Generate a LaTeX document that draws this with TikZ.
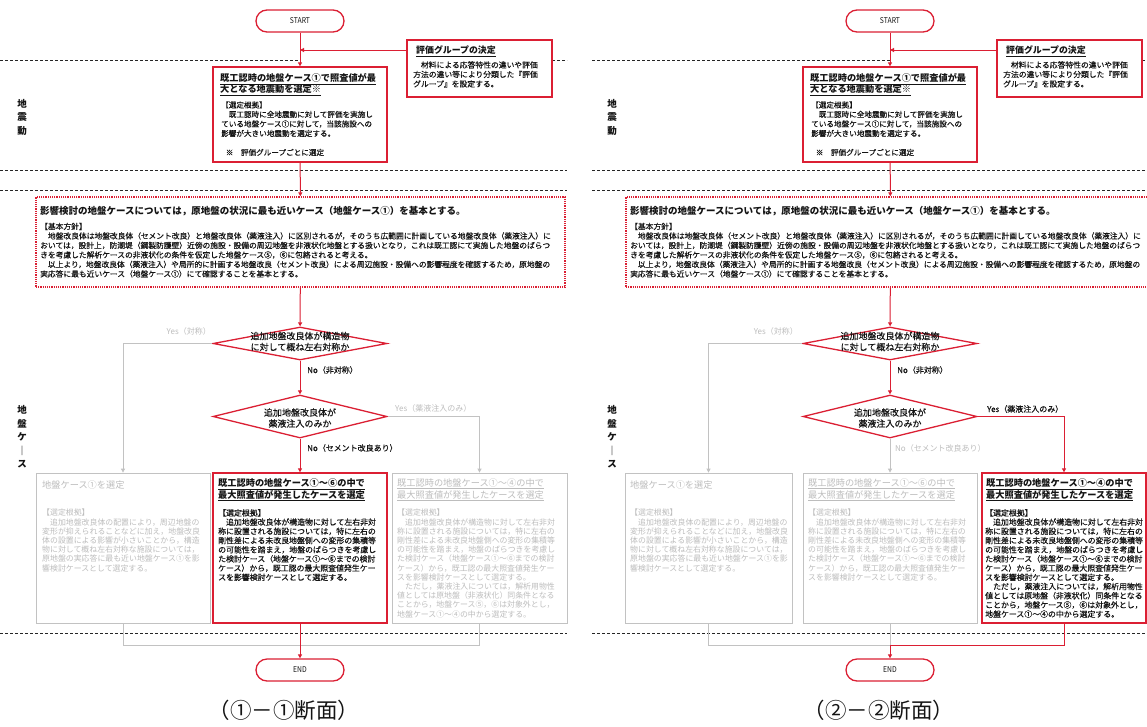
\documentclass[tikz,border=0pt]{standalone}
\usepackage{fontspec}
\setmainfont{Noto Sans CJK JP}
\newfontfamily\jpmed{Noto Sans CJK JP}[FakeBold=0.35]
\usepackage{graphicx}
\usetikzlibrary{shapes.geometric,arrows.meta}
\definecolor{fred}{rgb}{0.86,0.12,0.2}
\definecolor{fgray}{gray}{0.76}
\definecolor{fgtext}{gray}{0.74}
\definecolor{ftext}{gray}{0.08}
\newcommand\fsz[2]{\fontsize{#1}{#2}\selectfont}

\newcommand\HeadA{\underline{既工認時の地盤ケース①～⑥の中で}\\\underline{最大照査値が発生したケースを選定}}
\newcommand\HeadB{\underline{既工認時の地盤ケース①～④の中で}\\\underline{最大照査値が発生したケースを選定}}
\newcommand\BodyA{【選定根拠】\\　追加地盤改良体が構造物に対して左右非対\\称に設置される施設については，特に左右の\\剛性差による未改良地盤側への変形の集積等\\の可能性を踏まえ，地盤のばらつきを考慮し\\た検討ケース（地盤ケース①～⑥までの検討\\ケース）から，既工認の最大照査値発生ケー\\スを影響検討ケースとして選定する。}
\newcommand\BodyB{\BodyA\\　ただし，薬液注入については，解析用物性\\値としては原地盤（非液状化）同条件となる\\ことから，地盤ケース⑤，⑥は対象外とし，\\地盤ケース①～④の中から選定する。}
\newcommand\BodyC{【選定根拠】\\　追加地盤改良体の配置により，周辺地盤の\\変形が抑えられることなどに加え，地盤改良\\体の設置による影響が小さいことから，構造\\物に対して概ね左右対称な施設については，\\原地盤の実応答に最も近い地盤ケース①を影\\響検討ケースとして選定する。}

\tikzset{
 redbox/.style={draw=fred, line width=1.3pt, fill=white, inner sep=0pt},
 graybox/.style={draw=fgray, line width=0.8pt, fill=white, inner sep=0pt},
 termbox/.style={draw=fred, line width=1.3pt, rounded corners=11pt, minimum width=88pt, minimum height=22pt, inner sep=0pt, font=\fsz{8}{9}, text=ftext, fill=white},
 decision/.style={diamond, draw=fred, line width=1.3pt, inner sep=0pt, fill=white},
 bigbox/.style={draw=fred, line width=1.4pt, dash pattern=on 1.2pt off 1pt, fill=white, inner sep=0pt},
 sepline/.style={draw=black!85, line width=0.8pt, dash pattern=on 3pt off 2pt},
 redarrow/.style={draw=fred, line width=1pt, -{Triangle[length=4pt,width=4pt]}},
 grayarrow/.style={draw=fgray, line width=0.8pt, -{Triangle[length=4pt,width=4pt]}},
 redline/.style={draw=fred, line width=1pt},
 grayline/.style={draw=fgray, line width=0.8pt},
 txt/.style={anchor=north west, inner sep=0pt, align=left, text=ftext},
 gtxt/.style={txt, text=fgtext},
 lbl/.style={inner sep=0pt, font=\jpmed\fsz{8}{9}, text=ftext},
 glbl/.style={inner sep=0pt, font=\fsz{8}{9}, text=fgtext},
 sidelbl/.style={inner sep=0pt, align=center, font=\fsz{9.5}{13.5}\bfseries, text=ftext},
 headf/.style={font=\fsz{9.2}{11.7}\bfseries},
 bodyf/.style={font=\jpmed\fsz{7.9}{9.2}},
 gbodyf/.style={font=\fsz{7.9}{9.2}},
}

\newcommand\toppart[1]{%
 \node[sidelbl] (#1lab1) at (22,117) {地\\震\\動};
 \node[sidelbl] (#1lab2) at (22,437) {地\\盤\\ケ\\｜\\ス};
 \node[termbox] (#1start) at (300,21) {\scalebox{0.85}[1]{START}};
 \node[redbox, minimum width=145pt, minimum height=57pt] (#1grp) at (479.5,68.5) {};
 \node[txt, font=\fsz{8.9}{10}\bfseries] (#1grpt) at (416,45.5) {\underline{評価グループの決定}};
 \node[txt, font=\jpmed\fsz{7.8}{9.5}] (#1grpb) at (413,61) {　材料による応答特性の違いや評価\\方法の違い等により分類した『評価\\グループ』を設定する。};
 \node[redbox, minimum width=174pt, minimum height=95pt] (#1b1) at (300,114.5) {};
 \node[txt, font=\fsz{9.2}{11}\bfseries] (#1b1h) at (220,73.5) {\underline{既工認時の地盤ケース①で照査値が最}\\\underline{大となる地震動を選定※}};
 \node[txt, font=\jpmed\fsz{7.6}{9.5}] (#1b1b) at (221,101.2) {【選定根拠】\\　既工認時に全地震動に対して評価を実施し\\ている地盤ケース①に対して，当該施設への\\影響が大きい地震動を選定する。\\\mbox{}\\\hspace*{0.6em}※　評価グループごとに選定};
 \node[bigbox, minimum width=529pt, minimum height=90pt] (#1big) at (300.5,242) {};
 \node[txt, font=\fsz{9.5}{11}\bfseries] (#1bigt) at (40,206.3) {影響検討の地盤ケースについては，原地盤の状況に最も近いケース（地盤ケース①）を基本とする。};
 \node[txt, font=\jpmed\fsz{7.75}{9.5}] (#1bigb) at (40,222.6) {【基本方針】\\　地盤改良体は地盤改良体（セメント改良）と地盤改良体（薬液注入）に区別されるが，そのうち広範囲に計画している地盤改良体（薬液注入）に\\おいては，設計上，防潮堤（鋼製防護壁）近傍の施設・設備の周辺地盤を非液状化地盤とする扱いとなり，これは既工認にて実施した地盤のばらつ\\きを考慮した解析ケースの非液状化の条件を仮定した地盤ケース⑤，⑥に包絡されると考える。\\　以上より，地盤改良体（薬液注入）や局所的に計画する地盤改良（セメント改良）による周辺施設・設備への影響程度を確認するため，原地盤の\\実応答に最も近いケース（地盤ケース①）にて確認することを基本とする。};
 \node[decision, minimum width=174pt, minimum height=33pt] (#1d1) at (300,343.5) {};
 \node[inner sep=0pt, align=center, font=\jpmed\fsz{9}{11}, text=ftext] (#1d1t) at (300,341.5) {追加地盤改良体が構造物\\に対して概ね左右対称か};
 \node[decision, minimum width=174pt, minimum height=43pt] (#1d2) at (300,416.5) {};
 \node[inner sep=0pt, align=center, font=\jpmed\fsz{9}{11}, text=ftext] (#1d2t) at (300,418) {追加地盤改良体が\\薬液注入のみか};
 \node[lbl, anchor=west] (#1n1) at (307,370) {No（非対称）};
 \node[termbox] (#1end) at (300,670) {\scalebox{0.85}[1]{END}};
 \coordinate (#1join) at (300,50);
 \draw[redarrow] (#1start) -- (#1b1);
 \draw[redarrow] (#1grp.west |- #1join) -- (#1join);
 \draw[redarrow] (#1b1) -- (#1big);
 \draw[redarrow] (#1big) -- (#1d1);
 \draw[redarrow] (#1d1) -- (#1d2);
}

\begin{document}
\begin{tikzpicture}[x=1pt,y=-1pt]
\fill[white] (0,0) rectangle (1147,726);
\useasboundingbox (0,0) rectangle (1147,726);

% separator lines
\foreach \yy in {170,190,633} {
  \draw[sepline] (0,\yy) -- (567,\yy);
  \draw[sepline] (592,\yy) -- (1147,\yy);
}
\draw[sepline] (0,60) -- (300,60);
\draw[sepline] (552,60) -- (567,60);
\draw[sepline] (592,60) -- (890,60);
\draw[sepline] (1142,60) -- (1147,60);

% ---------------- left panel ----------------
\toppart{L}
\node[graybox, minimum width=174pt, minimum height=150pt] (LgL) at (123,548) {};
\node[redbox, minimum width=174pt, minimum height=150pt] (LgM) at (300,548) {};
\node[graybox, minimum width=175pt, minimum height=150pt] (LgR) at (479.5,548) {};
\node[gtxt, font=\fsz{9.2}{11.7}] (LgLh) at (42,480.5) {地盤ケース①を選定};
\node[gtxt, gbodyf] (LgLb) at (42,509) {\BodyC};
\node[txt, headf] (LgMh) at (218,478.5) {\HeadA};
\node[txt, bodyf] (LgMb) at (218,509) {\BodyA};
\node[gtxt, font=\fsz{9.2}{11.7}] (LgRh) at (397,478.5) {\HeadB};
\node[gtxt, gbodyf] (LgRb) at (397,509) {\BodyB};
\node[lbl, anchor=west] (Ln2) at (307,448) {No（セメント改良あり）};
\node[glbl, anchor=east] (Ly1) at (211,331) {Yes（対称）};
\node[glbl, anchor=west] (Ly2) at (395,408) {Yes（薬液注入のみ）};
\coordinate (Lmerge) at (479.5,645);
\draw[grayarrow] (Ld1.west) -| (LgL.north);
\draw[grayarrow] (Ld2.east) -| (LgR.north);
\draw[grayline] (LgL.south) |- (Lmerge) -- (LgR.south);
\draw[redarrow] (Ld2) -- (LgM);
\draw[redarrow] (LgM) -- (Lend);
\node[font=\fsz{21.5}{24}, text=ftext, inner sep=0pt] (cap1) at (284,710) {（①－①断面）};

% ---------------- right panel ----------------
\begin{scope}[xshift=590pt]
\toppart{R}
\node[graybox, minimum width=167pt, minimum height=150pt] (RgL) at (118.5,548) {};
\node[graybox, minimum width=174pt, minimum height=150pt] (RgM) at (300,548) {};
\node[redbox, minimum width=164pt, minimum height=150pt] (RgR) at (474,548) {};
\node[gtxt, font=\fsz{9.2}{11.7}] (RgLh) at (40,480.5) {地盤ケース①を選定};
\node[gtxt, gbodyf] (RgLb) at (40,509) {\BodyC};
\node[gtxt, font=\fsz{9.2}{11.7}] (RgMh) at (218,478.5) {\HeadA};
\node[gtxt, gbodyf] (RgMb) at (218,509) {\BodyA};
\node[txt, headf] (RgRh) at (396,478.5) {\HeadB};
\node[txt, bodyf] (RgRb) at (395,509) {\BodyB};
\node[glbl, anchor=west] (Rn2) at (305,448) {No（セメント改良あり）};
\node[glbl, anchor=east] (Ry1) at (208,331) {Yes（対称）};
\node[lbl, anchor=west] (Ry2) at (397,409) {Yes（薬液注入のみ）};
\coordinate (Rmerge) at (300,645);
\draw[grayarrow] (Rd1.west) -| (RgL.north);
\draw[grayarrow] (Rd2) -- (RgM);
\draw[grayline] (RgL.south) |- (Rmerge);
\draw[grayline] (RgM.south) -- (Rmerge);
\draw[redarrow] (Rd2.east) -| (RgR.north);
\draw[redline] (RgR.south) |- (Rmerge);
\draw[redarrow] (Rmerge) -- (Rend);
\node[font=\fsz{21.5}{24}, text=ftext, inner sep=0pt] (cap2) at (289,710) {（②－②断面）};
\end{scope}
\end{tikzpicture}
\end{document}
